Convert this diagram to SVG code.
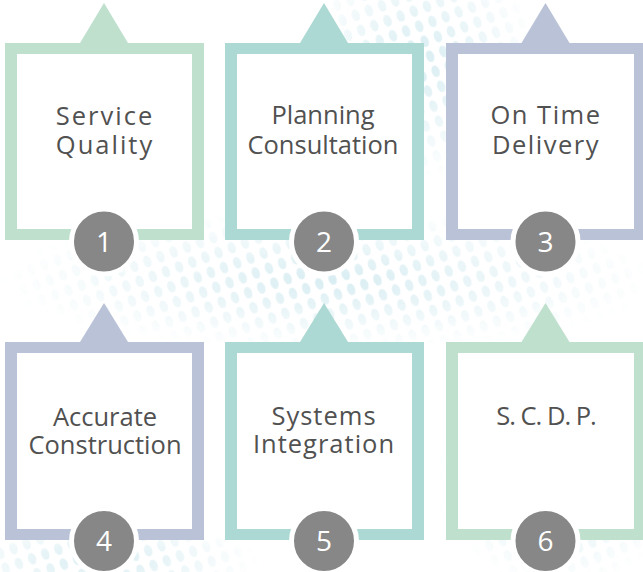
<svg xmlns="http://www.w3.org/2000/svg" width="643" height="572" viewBox="0 0 643 572">
  <defs>
    <pattern id="dots" width="14" height="16" patternUnits="userSpaceOnUse" patternTransform="rotate(-20)">
      <ellipse cx="7" cy="8" rx="4" ry="6" fill="#cfe9ef"/>
    </pattern>
    <radialGradient id="fadeA" cx="0.5" cy="0.5" r="0.5">
      <stop offset="0" stop-color="#fff" stop-opacity="1"/>
      <stop offset="1" stop-color="#fff" stop-opacity="0"/>
    </radialGradient>
    <mask id="m1">
      <ellipse cx="330" cy="280" rx="330" ry="70" fill="url(#fadeA)"/>
      <ellipse cx="420" cy="60" rx="120" ry="120" fill="url(#fadeA)"/>
      <ellipse cx="560" cy="480" rx="120" ry="110" fill="url(#fadeA)"/>
      <ellipse cx="100" cy="560" rx="160" ry="40" fill="url(#fadeA)"/>
    </mask>
  </defs>
  <style>
    .txt { font-family: "Open Sans", "Noto Sans", "DejaVu Sans", sans-serif; font-size: 25.5px; font-weight: 500; fill: #515151; text-anchor: middle; }
    .num { font-family: "Open Sans", "Noto Sans", "DejaVu Sans", sans-serif; font-size: 28px; fill: #ffffff; text-anchor: middle; }
    .badge { fill: #878787; stroke: #ffffff; stroke-width: 5; }
    .inner { fill: #ffffff; }
    .green { fill: #bee0cd; }
    .teal { fill: #acd9d3; }
    .lav { fill: #b9c2d6; }
  </style>
  <rect width="643" height="572" fill="#ffffff"/>
  <rect width="643" height="572" fill="url(#dots)" mask="url(#m1)" opacity="0.8"/>

  <g id="node1">
    <polygon class="green" points="104,3 128,43 80,43"/>
    <rect class="green" x="5" y="43" width="199" height="197"/>
    <rect class="inner" x="17" y="54" width="175" height="175"/>
    <text class="txt" x="105" y="125" letter-spacing="2">Service</text>
    <text class="txt" x="105" y="154" letter-spacing="2">Quality</text>
    <circle class="badge" cx="104" cy="241.5" r="32.5"/>
    <text class="num" x="104" y="251.5">1</text>
  </g>

  <g id="node2">
    <polygon class="teal" points="324,3 348,43 300,43"/>
    <rect class="teal" x="225" y="43" width="199" height="197"/>
    <rect class="inner" x="237" y="54" width="175" height="175"/>
    <text class="txt" x="323" y="124">Planning</text>
    <text class="txt" x="323" y="154">Consultation</text>
    <circle class="badge" cx="324" cy="241.5" r="32.5"/>
    <text class="num" x="324" y="251.5">2</text>
  </g>

  <g id="node3">
    <polygon class="lav" points="545.5,3 569.5,43 521.5,43"/>
    <rect class="lav" x="446" y="43" width="199" height="197"/>
    <rect class="inner" x="458" y="54" width="176" height="175"/>
    <text class="txt" x="546" y="124" letter-spacing="1.5">On Time</text>
    <text class="txt" x="546" y="154" letter-spacing="1.5">Delivery</text>
    <circle class="badge" cx="545.5" cy="241.5" r="32.5"/>
    <text class="num" x="545.5" y="251.5">3</text>
  </g>

  <g id="node4">
    <polygon class="lav" points="104,303 128,342 80,342"/>
    <rect class="lav" x="5" y="342" width="199" height="198"/>
    <rect class="inner" x="17" y="353" width="175" height="176"/>
    <text class="txt" x="105" y="426">Accurate</text>
    <text class="txt" x="105" y="454">Construction</text>
    <circle class="badge" cx="104" cy="541" r="32.5"/>
    <text class="num" x="104" y="551">4</text>
  </g>

  <g id="node5">
    <polygon class="teal" points="324,303 348,342 300,342"/>
    <rect class="teal" x="225" y="342" width="199" height="198"/>
    <rect class="inner" x="237" y="353" width="175" height="176"/>
    <text class="txt" x="324" y="425" letter-spacing="1">Systems</text>
    <text class="txt" x="324" y="453" letter-spacing="1">Integration</text>
    <circle class="badge" cx="324" cy="541" r="32.5"/>
    <text class="num" x="324" y="551">5</text>
  </g>

  <g id="node6">
    <polygon class="green" points="545.5,303 569.5,342 521.5,342"/>
    <rect class="green" x="446" y="342" width="199" height="198"/>
    <rect class="inner" x="458" y="353" width="176" height="176"/>
    <text class="txt" x="546" y="425" letter-spacing="-1">S. C. D. P.</text>
    <circle class="badge" cx="545.5" cy="541" r="32.5"/>
    <text class="num" x="545.5" y="551">6</text>
  </g>

  <g id="connectors"></g>
</svg>
